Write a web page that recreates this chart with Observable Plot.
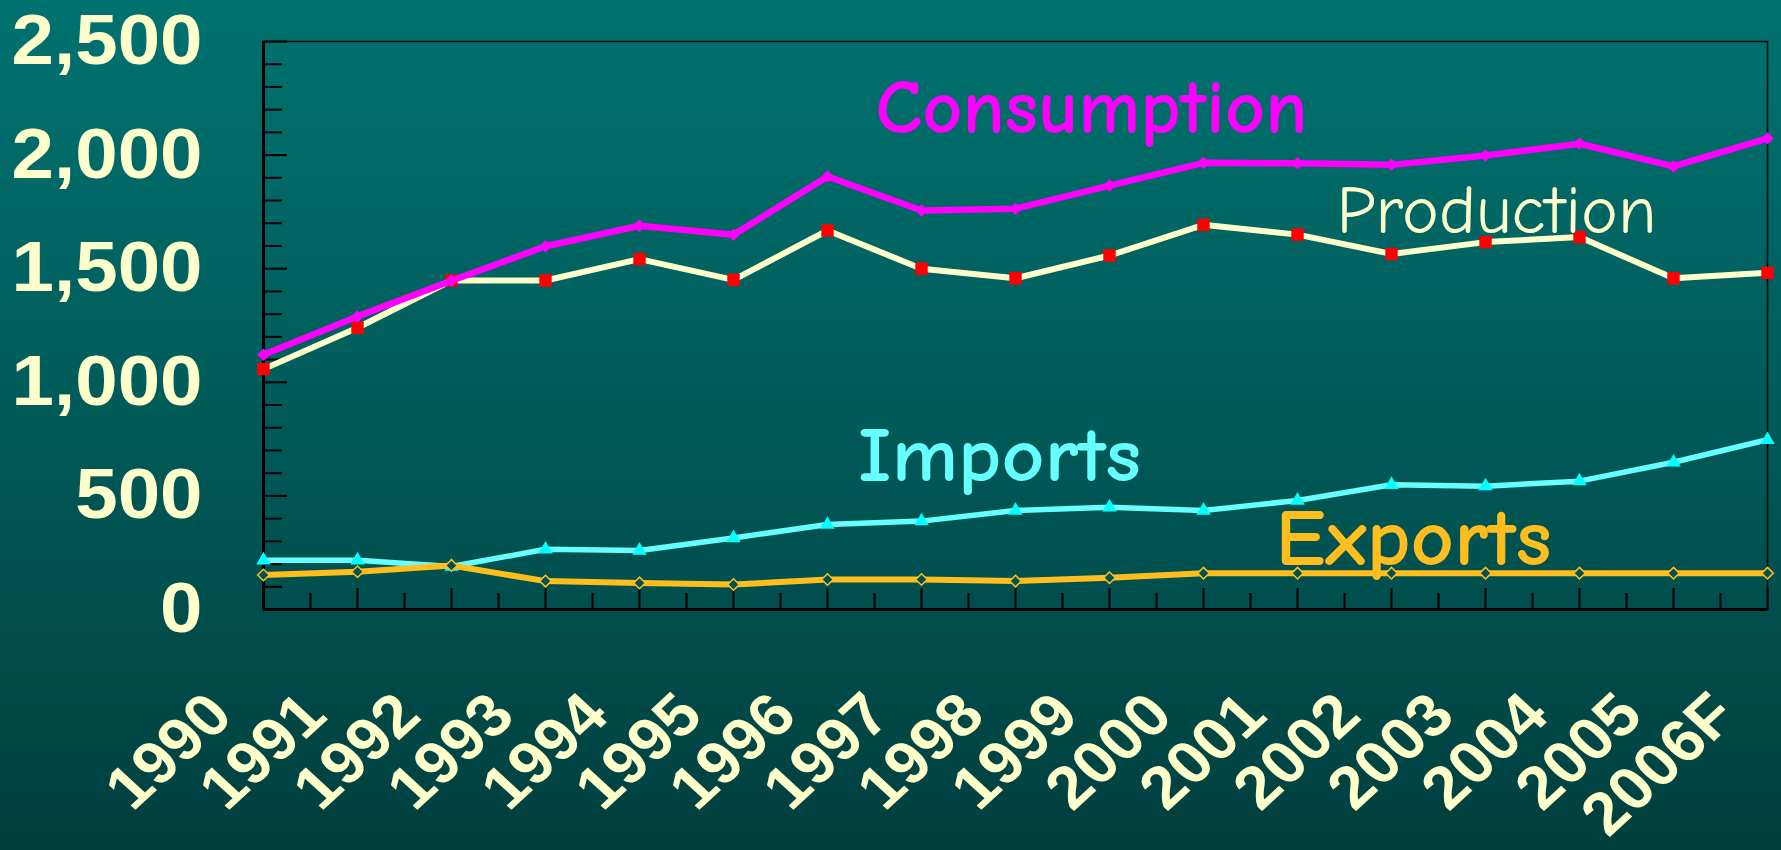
<!DOCTYPE html>
<html>
<head>
<meta charset="utf-8">
<script src="https://cdn.jsdelivr.net/npm/d3@7"></script>
<script src="https://cdn.jsdelivr.net/npm/@observablehq/plot@0.6"></script>
<style>
html, body { margin: 0; padding: 0; }
#chart { width: 1781px; height: 850px; background: linear-gradient(to bottom, #007270 0%, #005a58 50%, #003f3e 100%); }
</style>
</head>
<body>
<div id="chart"></div>
<script>
// ---- data ----
const years = [1990, 1991, 1992, 1993, 1994, 1995, 1996, 1997, 1998, 1999, 2000, 2001, 2002, 2003, 2004, 2005, 2006];
const yearLabels = ["1990", "1991", "1992", "1993", "1994", "1995", "1996", "1997", "1998", "1999", "2000", "2001", "2002", "2003", "2004", "2005", "2006F"];
const consumption = [1121, 1290, 1447, 1599, 1689, 1649, 1906, 1756, 1764, 1866, 1966, 1964, 1957, 1998, 2050, 1950, 2074];
const production = [1058, 1240, 1448, 1448, 1542, 1451, 1668, 1500, 1458, 1558, 1693, 1650, 1565, 1617, 1639, 1458, 1482];
const imports = [217, 217, 189, 265, 260, 315, 374, 389, 436, 450, 436, 480, 549, 543, 565, 648, 747];
const exports = [152, 166, 194, 125, 117, 110, 132, 132, 125, 140, 160, 160, 160, 160, 160, 160, 160];
const yTicks = [0, 500, 1000, 1500, 2000, 2500];
const seriesNames = ["Consumption", "Production", "Imports", "Exports"];

// ---- layout / style ----
const W = 1781, H = 850;
const mL = 263, mR = 14, mT = 41, mB = 241;
const plotW = W - mL - mR, plotH = H - mT - mB;
const cream = "#FFFFCC";
const cMag = "#FF00FF", cProd = "#FFFFCC", cImp = "#66FFFF", cImpMark = "#00FFFF", cExp = "#FFBE1E";
const tickFont = "'Liberation Sans', Arial, sans-serif";
const labelFont = "'Comic Sans MS', 'Comic Neue', Lato, sans-serif";
const stretch = 1.09; // horizontal stretch of the tick lettering

const rows = years.map((y, i) => ({
  year: y, label: yearLabels[i],
  consumption: consumption[i], production: production[i],
  imports: imports[i], exports: exports[i]
}));
const minorY = d3.range(0, yTicks[yTicks.length - 1], 100).filter(d => d % 500 !== 0);
const midYears = years.slice(0, -1).map(y => y + 0.5);
const at = y => rows.filter(d => d.year === y);
const fmt = d3.format(",");

const chart = Plot.plot({
  width: W, height: H,
  marginLeft: mL, marginRight: mR, marginTop: mT, marginBottom: mB,
  style: { background: "transparent", overflow: "visible" },
  x: { type: "linear", domain: [years[0], years[years.length - 1]], axis: null },
  y: { domain: [0, yTicks[yTicks.length - 1]], axis: null },
  marks: [
    Plot.frame({ stroke: "black", strokeWidth: 1.5 }),
    Plot.tickY(minorY, { y: d => d, stroke: "black", strokeWidth: 2, insetRight: plotW - 19 }),
    Plot.tickY(yTicks, { y: d => d, stroke: "black", strokeWidth: 2, insetRight: plotW - 24 }),
    Plot.tickX(years, { x: d => d, stroke: "black", strokeWidth: 2, insetTop: plotH - 21 }),
    Plot.tickX(midYears, { x: d => d, stroke: "black", strokeWidth: 2, insetTop: plotH - 16 }),
    Plot.ruleX([years[0]], { stroke: "black", strokeWidth: 3 }),
    Plot.ruleY([0], { stroke: "black", strokeWidth: 3 }),

    // Production
    Plot.line(rows, { x: "year", y: "production", stroke: cProd, strokeWidth: 6, strokeLinejoin: "round" }),
    Plot.dot(rows, { x: "year", y: "production", symbol: "square", r: 7, fill: "#FF0000", stroke: "none" }),
    // Consumption
    Plot.line(rows, { x: "year", y: "consumption", stroke: cMag, strokeWidth: 6.5, strokeLinejoin: "round" }),
    Plot.dot(rows, { x: "year", y: "consumption", symbol: "diamond2", r: 5.6, fill: cMag, stroke: "none" }),
    // Imports
    Plot.line(rows, { x: "year", y: "imports", stroke: cImp, strokeWidth: 5.5, strokeLinejoin: "round" }),
    Plot.dot(rows, { x: "year", y: "imports", symbol: "triangle", r: 5.4, fill: cImpMark, stroke: "none" }),
    // Exports
    Plot.line(rows, { x: "year", y: "exports", stroke: cExp, strokeWidth: 6, strokeLinejoin: "round" }),
    Plot.dot(rows, { x: "year", y: "exports", symbol: "diamond2", r: 5.2, fill: "#00504F", stroke: cExp, strokeWidth: 1.5 }),

    // y tick labels
    Plot.text(yTicks, {
      y: d => d, frameAnchor: "left", text: d => fmt(d),
      textAnchor: "end", lineAnchor: "middle", dx: -61,
      fill: cream, fontSize: 70, fontWeight: "bold", fontFamily: tickFont
    }),
    // x tick labels
    Plot.text(rows, {
      x: "year", frameAnchor: "bottom", text: "label", rotate: -45,
      textAnchor: "end", lineAnchor: "middle", dx: -43, dy: 95,
      fill: cream, fontSize: 60, fontWeight: "bold", fontFamily: tickFont
    }),

    // series labels
    Plot.text(at(1999), { x: "year", y: "consumption", text: () => seriesNames[0], dx: -18, dy: -53,
      lineAnchor: "bottom", fill: cMag, fontSize: 76, fontWeight: "bold", fontFamily: labelFont }),
    Plot.text(at(2003), { x: "year", y: "production", text: () => seriesNames[1], dx: 11, dy: -9,
      lineAnchor: "bottom", fill: cream, fontSize: 68, fontWeight: "normal", fontFamily: labelFont }),
    Plot.text(at(1998), { x: "year", y: "imports", text: () => seriesNames[2], dx: -16, dy: -29,
      lineAnchor: "bottom", fill: cImp, fontSize: 76, fontWeight: "bold", fontFamily: labelFont }),
    Plot.text(at(2002), { x: "year", y: "exports", text: () => seriesNames[3], dx: 22, dy: -8,
      lineAnchor: "bottom", fill: cExp, fontSize: 80, fontWeight: "bold", fontFamily: labelFont })
  ]
});

document.getElementById("chart").appendChild(chart);

// stretch lettering to the reference proportions
const labelWidths = { Consumption: 432, Production: 320, Imports: 283, Exports: 276 };
const yLabelSet = new Set(yTicks.map(fmt));
const xLabelSet = new Set(yearLabels);
d3.select(chart).selectAll("text").each(function () {
  const t = this.textContent;
  if (labelWidths[t]) {
    this.setAttribute("textLength", labelWidths[t]);
    this.setAttribute("lengthAdjust", "spacingAndGlyphs");
  } else if (yLabelSet.has(t)) {
    const len = this.getComputedTextLength();
    this.setAttribute("textLength", len * stretch);
    this.setAttribute("lengthAdjust", "spacingAndGlyphs");
  } else if (xLabelSet.has(t)) {
    const tr = this.getAttribute("transform");
    if (tr && tr.includes("rotate")) this.setAttribute("transform", tr.replace("rotate", `scale(${stretch},1) rotate`));
  }
});
</script>
</body>
</html>
